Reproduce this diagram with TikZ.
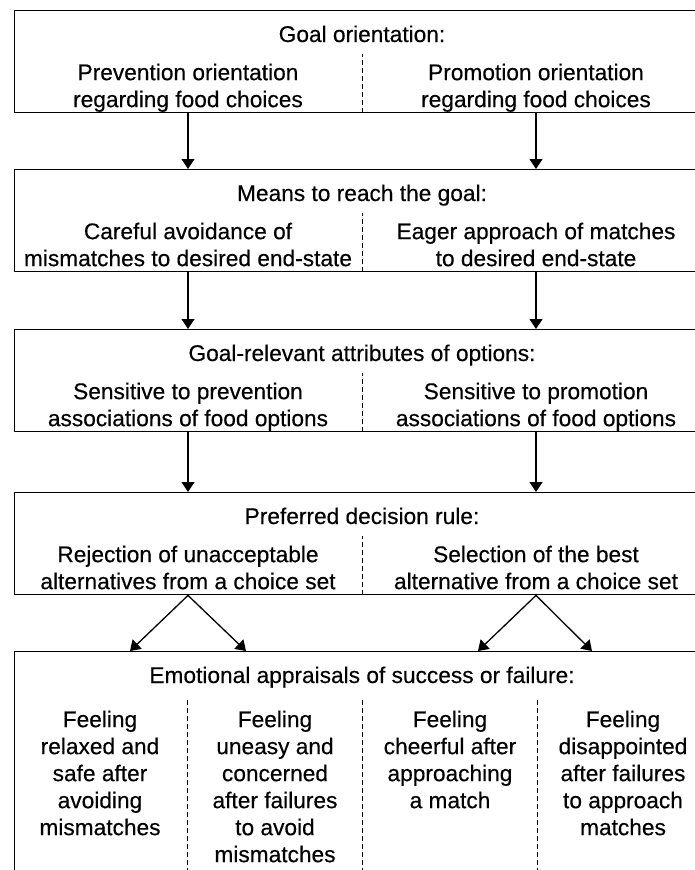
\documentclass[tikz,border=0pt]{standalone}
\usepackage{fontspec}
\setmainfont{Liberation Sans}[BoldFont=Liberation Sans, BoldFeatures={FakeBold=0.35}]
\usetikzlibrary{arrows.meta,calc}
\begin{document}
\begin{tikzpicture}[x=1pt,y=-1pt,
  box/.style={draw, line width=1.4pt, rectangle, anchor=north west, inner sep=0pt,
              minimum width=696pt, minimum height=102pt},
  ttl/.style={font=\fontsize{22.7}{27}\selectfont\bfseries, inner sep=0pt, anchor=base},
  txt/.style={font=\fontsize{22.7}{27}\selectfont\bfseries, inner sep=0pt, anchor=north, align=center},
  divider/.style={line width=1pt, dash pattern=on 5pt off 3pt},
  arr/.style={line width=1.3pt, -{Triangle[length=10pt,width=13pt]}}]
\useasboundingbox (0,0) rectangle (695,870);
\fill[white] (0,0) rectangle (695,870);
\clip (0,0) rectangle (695,870);

% Box 1
\node[box] (b1) at (14,10) {};
\node[ttl] (t1) at (362,42) {Goal orientation:};
\node[txt] (l1) at (188,63.5) {Prevention orientation\\regarding food choices};
\node[txt] (r1) at (536,63.5) {Promotion orientation\\regarding food choices};
\draw[divider] (b1.south) -- ++(0,-59);

% Box 2
\node[box] (b2) at (14,169) {};
\node[ttl] (t2) at (362,201) {Means to reach the goal:};
\node[txt] (l2) at (188,222.5) {Careful avoidance of\\mismatches to desired end-state};
\node[txt] (r2) at (536,222.5) {Eager approach of matches\\to desired end-state};
\draw[divider] (b2.south) -- ++(0,-59);

% Box 3
\node[box] (b3) at (14,329) {};
\node[ttl] (t3) at (362,361) {Goal-relevant attributes of options:};
\node[txt] (l3) at (188,382.5) {Sensitive to prevention\\associations of food options};
\node[txt] (r3) at (536,382.5) {Sensitive to promotion\\associations of food options};
\draw[divider] (b3.south) -- ++(0,-59);

% Box 4
\node[box] (b4) at (14,492) {};
\node[ttl] (t4) at (362,524) {Preferred decision rule:};
\node[txt] (l4) at (188,545.5) {Rejection of unacceptable\\alternatives from a choice set};
\node[txt] (r4) at (536,545.5) {Selection of the best\\alternative from a choice set};
\draw[divider] (b4.south) -- ++(0,-59);

% Box 5
\node[box, minimum height=240pt] (b5) at (14,651) {};
\node[ttl] (t5) at (362,683) {Emotional appraisals of success or failure:};
\node[txt] (c1) at (100,710.5) {Feeling\\relaxed and\\safe after\\avoiding\\mismatches};
\node[txt] (c2) at (275,710.5) {Feeling\\uneasy and\\concerned\\after failures\\to avoid\\mismatches};
\node[txt] (c3) at (450,710.5) {Feeling\\cheerful after\\approaching\\a match};
\node[txt] (c4) at (623,710.5) {Feeling\\disappointed\\after failures\\to approach\\matches};
\coordinate (d1) at (187,700);
\coordinate (d2) at (362,700);
\coordinate (d3) at (537,700);
\draw[divider] (d1) -- ++(0,200);
\draw[divider] (d2) -- ++(0,200);
\draw[divider] (d3) -- ++(0,200);

% Arrows
\draw[arr] (b1.south -| l1) -- (b2.north -| l1);
\draw[arr] (b1.south -| r1) -- (b2.north -| r1);
\draw[arr] (b2.south -| l2) -- (b3.north -| l2);
\draw[arr] (b2.south -| r2) -- (b3.north -| r2);
\draw[arr] (b3.south -| l3) -- (b4.north -| l3);
\draw[arr] (b3.south -| r3) -- (b4.north -| r3);
\coordinate (e1) at ($(b5.north -| l4)+(-58,0)$);
\coordinate (e2) at ($(b5.north -| l4)+(58,0)$);
\coordinate (e3) at ($(b5.north -| r4)+(-58,0)$);
\coordinate (e4) at ($(b5.north -| r4)+(56,0)$);
\draw[arr] (b4.south -| l4) -- (e1);
\draw[arr] (b4.south -| l4) -- (e2);
\draw[arr] (b4.south -| r4) -- (e3);
\draw[arr] (b4.south -| r4) -- (e4);
\end{tikzpicture}
\end{document}
